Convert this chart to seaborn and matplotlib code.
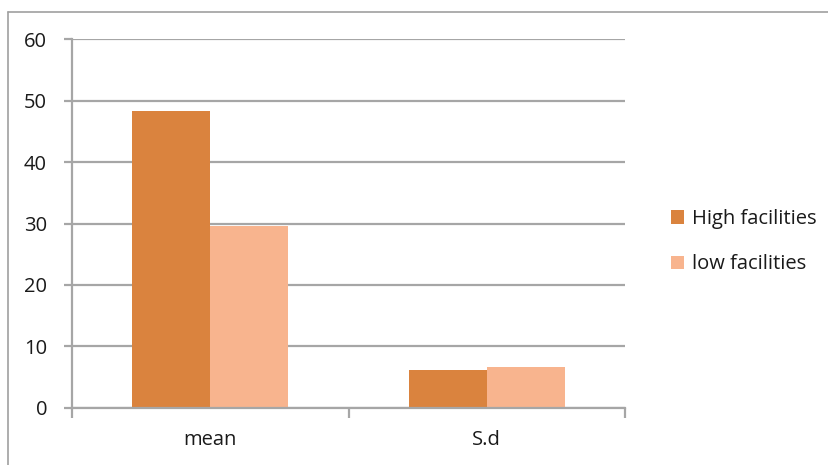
import matplotlib
matplotlib.use("Agg")
import matplotlib.pyplot as plt
import seaborn as sns
import pandas as pd
from matplotlib.lines import Line2D
from matplotlib.patches import Patch

# Values
categories = ["mean", "S.d"]
groups = ["High facilities", "low facilities"]
high_values = [48.3, 6.2]
low_values = [29.6, 6.7]
y_ticks = [0, 10, 20, 30, 40, 50, 60]

colors = ["#DA833E", "#F8B48E"]
grid_color = "#A6A6A6"
text_color = "#1A1A1A"
fsize = 14.5

df = pd.DataFrame({
    "stat": categories * 2,
    "group": [groups[0]] * len(categories) + [groups[1]] * len(categories),
    "value": high_values + low_values,
})

sns.set_style("white")
plt.rcParams["font.family"] = ["Open Sans", "DejaVu Sans"]

fig = plt.figure(figsize=(8.29, 4.65), dpi=100)
ax = fig.add_axes([0.0869, 0.1226, 0.667, 0.7935])

sns.barplot(data=df, x="stat", y="value", hue="group", palette=colors,
            width=0.565, saturation=1, ax=ax, legend=False, linewidth=0)

ax.set_ylim(0, 60)
ax.set_xlim(-0.5, 1.5)
ax.set_yticks(y_ticks)
ax.set_yticklabels([str(t) for t in y_ticks], fontsize=fsize, color=text_color)
ax.set_xlabel("")
ax.set_ylabel("")
ax.set_axisbelow(True)
ax.yaxis.grid(True, color=grid_color, linewidth=1.6)

for side in ["top", "right"]:
    ax.spines[side].set_visible(False)
for side in ["left", "bottom"]:
    ax.spines[side].set_color(grid_color)
    ax.spines[side].set_linewidth(1.6)

# y ticks pointing outward, category ticks at boundaries
ax.tick_params(axis="y", which="major", direction="out", length=6,
               width=1.6, color=grid_color, pad=12, left=True)
ax.set_xticks([0, 1])
ax.set_xticklabels(categories, fontsize=fsize, color=text_color)
ax.tick_params(axis="x", which="major", length=0, pad=16)
ax.set_xticks([-0.5, 0.5, 1.5], minor=True)
ax.tick_params(axis="x", which="minor", direction="out", length=7,
               width=1.6, color=grid_color, bottom=True)

handles = [Patch(facecolor=c, edgecolor="none") for c in colors]
fig.legend(handles, groups, loc="center left", bbox_to_anchor=(0.787, 0.48),
           frameon=False, fontsize=fsize, handlelength=0.65, handleheight=0.65,
           handletextpad=0.4, labelspacing=1.25, labelcolor=text_color)

# outer chart border (top and left edges visible)
fig.add_artist(Line2D([0.0097, 1.0], [0.974, 0.974], transform=fig.transFigure,
                      color="#A0A0A0", linewidth=1.2))
fig.add_artist(Line2D([0.0097, 0.0097], [0.0, 0.974], transform=fig.transFigure,
                      color="#A0A0A0", linewidth=1.2))

fig.savefig("out.png", dpi=100)
